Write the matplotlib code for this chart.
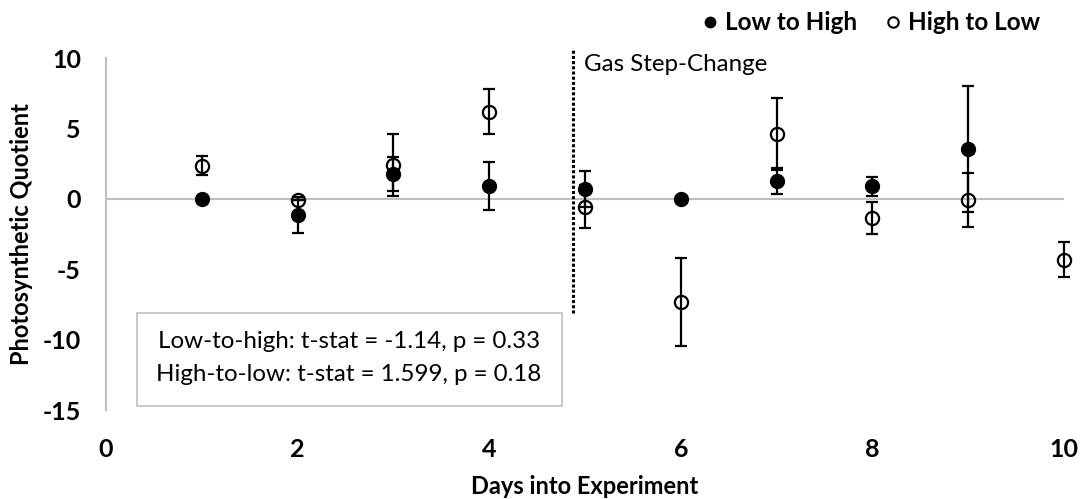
import matplotlib.pyplot as plt
import matplotlib.patches as patches
from matplotlib.lines import Line2D
import numpy as np

plt.rcParams['font.family'] = ['Lato', 'DejaVu Sans']
plt.rcParams['axes.unicode_minus'] = False

# data
days = [1, 2, 3, 4, 5, 6, 7, 8, 9, 10]
low_to_high = [0.0, -1.14, 1.75, 0.92, 0.71, 0.0, 1.26, 0.88, 3.55, np.nan]
low_to_high_err = [0.0, 1.3, 1.22, 1.7, 1.28, 0.0, 0.9, 0.7, 4.48, np.nan]
high_to_low = [2.34, -0.05, 2.41, 6.2, -0.55, -7.34, 4.6, -1.37, -0.07, -4.33]
high_to_low_err = [0.67, 0.0, 2.2, 1.57, 1.53, 3.12, 2.55, 1.13, 1.9, 1.25]

step_change_day = 4.87
stats_lines = ["Low-to-high: t-stat = -1.14, p = 0.33",
               "High-to-low: t-stat = 1.599, p = 0.18"]

grey = '#bfbfbf'

fig = plt.figure(figsize=(10.84, 4.99), dpi=100)
ax = fig.add_axes([106/1084, 1-410/499, 958/1084, 352/499])

ax.axhline(0, color=grey, lw=1.5, zorder=1)

lh = ax.errorbar(days, low_to_high, yerr=low_to_high_err, fmt='o', color='black',
                 mfc='black', mec='black', ms=10, capsize=4.5, elinewidth=1.6,
                 capthick=1.6, zorder=3)
hl = ax.errorbar(days, high_to_low, yerr=high_to_low_err, fmt='o', color='black',
                 mfc='none', mec='black', mew=1.6, ms=9.5, capsize=4.5,
                 elinewidth=1.6, capthick=1.6, zorder=3)
for container in (lh, hl):
    for artist in container.get_children():
        artist.set_clip_on(False)

# gas step-change marker
ax.plot([step_change_day, step_change_day], [-8.1, 10.7], color='black',
        lw=2.2, linestyle=(0, (1, 0.7)), clip_on=False, zorder=2)
ax.text(4.99, 9.52, "Gas Step-Change", fontsize=17.4, va='center', ha='left')

# stats box
box = patches.Rectangle((0.32, -14.75), 4.755 - 0.32, -8.1 + 14.75,
                        fill=False, edgecolor=grey, lw=1.2, zorder=2)
ax.add_patch(box)
ax.text(2.535, -10.13, stats_lines[0], fontsize=17.4, ha='center', va='center')
ax.text(2.535, -12.5, stats_lines[1], fontsize=17.4, ha='center', va='center')

ax.set_xlim(0, 10)
ax.set_ylim(-15, 10)
ax.set_xticks(np.arange(0, 11, 2))
ax.set_yticks(np.arange(-15, 11, 5))
for s in ['top', 'right', 'bottom']:
    ax.spines[s].set_visible(False)
ax.spines['left'].set_color(grey)
ax.spines['left'].set_linewidth(1.5)
ax.tick_params(axis='both', length=0, labelsize=18)
ax.tick_params(axis='x', pad=20)
ax.tick_params(axis='y', pad=18)
for lbl in ax.get_xticklabels() + ax.get_yticklabels():
    lbl.set_fontweight('bold')

xl = ax.set_xlabel("Days into Experiment", fontsize=17, fontweight='bold')
yl = ax.set_ylabel("Photosynthetic Quotient", fontsize=17, fontweight='bold')
xl.set_va('center')
yl.set_va('center')
ax.xaxis.set_label_coords(0.5, (410 - 486.7) / 352)
ax.yaxis.set_label_coords((22 - 106) / 958, 0.5)

handles = [Line2D([], [], marker='o', ls='none', color='black', mfc='black', ms=7.5),
           Line2D([], [], marker='o', ls='none', color='black', mfc='none', mew=1.5, ms=7.5)]
fig.legend(handles, ["Low to High", "High to Low"], loc='center right',
           bbox_to_anchor=(1052/1084, 1-23/499), ncol=2, frameon=False,
           prop={'weight': 'bold', 'size': 17.5}, handletextpad=0.1,
           columnspacing=1.0, handlelength=1.0, borderpad=0)

fig.savefig('out.png', dpi=100)
